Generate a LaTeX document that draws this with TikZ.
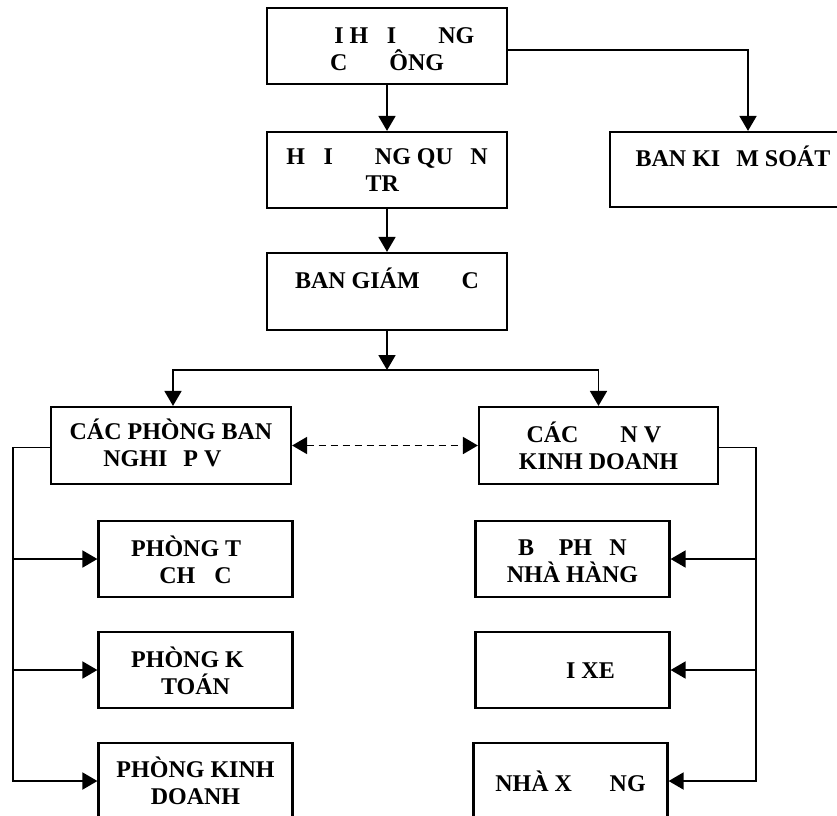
\documentclass[tikz,border=0pt]{standalone}
\usepackage{fontspec}
\setmainfont{Liberation Serif}
\usetikzlibrary{arrows.meta,calc}

\begin{document}
\begin{tikzpicture}[x=1pt,y=-1pt,
    box/.style={draw, line width=2.2pt, align=center, inner sep=0pt,
      minimum width=240pt, minimum height=76pt,
      font=\fontsize{24}{27}\selectfont\bfseries},
    sub/.style={box, minimum width=194pt},
    link/.style={line width=1.8pt},
    arr/.style={link, -{Triangle[length=15pt,width=17pt]}},
    arrboth/.style={link, {Triangle[length=15pt,width=17pt]}-{Triangle[length=15pt,width=17pt]}}]
    \useasboundingbox (0,0) rectangle (837,815);
    \clip (0,0) rectangle (837,815);

    % upper levels
    \node[box] (dhcd) at (387,46) {\phantom{ĐẠ}I H\phantom{Ộ}I \phantom{ĐỒ}NG\\C\phantom{Ổ} \phantom{Đ}ÔNG};
    \node[box] (hdqt) at (387,170) {H\phantom{Ộ}I \phantom{ĐỒ}NG QU\phantom{Ả}N\\TR\phantom{Ị}};
    \node[box, minimum height=77pt] (bgd) at (387,291.5) {BAN GIÁM \phantom{ĐỐ}C\\\phantom{B}};
    \node[box, minimum width=246pt, minimum height=75pt] (bks) at (733,169.5) {BAN KI\phantom{Ể}M SOÁT\\\phantom{B}};

    % two branches
    \node[box, minimum height=77pt] (cpb) at (171,445.5) {CÁC PHÒNG BAN\\NGHI\phantom{Ệ}P V\phantom{Ụ}};
    \node[box, minimum width=239pt, minimum height=77pt] (cdv) at (598.5,445.5) {CÁC \phantom{ĐƠ}N V\phantom{Ị}\\KINH DOANH};

    \node[sub] (ptc) at (195.5,559) {PHÒNG T\phantom{Ổ}\\CH\phantom{Ứ}C};
    \node[sub] (pkt) at (195.5,670) {PHÒNG K\phantom{Ế}\\TOÁN};
    \node[sub] (pkd) at (195.5,781) {PHÒNG KINH\\DOANH};

    \node[sub] (bpnh) at (572.5,559) {B\phantom{Ộ} PH\phantom{Ậ}N\\NHÀ HÀNG};
    \node[sub] (dx) at (572.5,670) {\phantom{ĐỘ}I XE};
    \node[sub] (nxg) at (570.5,781) {NHÀ X\phantom{ƯỞ}NG};

    \coordinate (split) at (387,370);
    \coordinate (lb) at (13,0);
    \coordinate (rb) at (756,0);

    \draw[arr] (dhcd.south) -- (hdqt.north);
    \draw[arr] ([yshift=-4pt]dhcd.east) -| ([xshift=15pt]bks.north);
    \draw[arr] (hdqt.south) -- (bgd.north);
    \draw[arr] (bgd.south) -- (split);
    \draw[arr] (split) -| ([xshift=2pt]cpb.north);
    \draw[arr] (split) -| (cdv.north);
    \draw[arrboth, dash pattern=on 7pt off 5pt] (cpb.east) -- (cdv.west);

    % left column
    \draw[arr] ([yshift=-2pt]cpb.west) -| (pkd.west -| lb) -- (pkd.west);
    \foreach \b in {ptc,pkt}
        \draw[arr] (\b.west -| lb) -- (\b.west);

    % right column
    \draw[arr] ([yshift=-2pt]cdv.east) -| (nxg.east -| rb) -- (nxg.east);
    \foreach \b in {bpnh,dx}
        \draw[arr] (\b.east -| rb) -- (\b.east);
\end{tikzpicture}
\end{document}
